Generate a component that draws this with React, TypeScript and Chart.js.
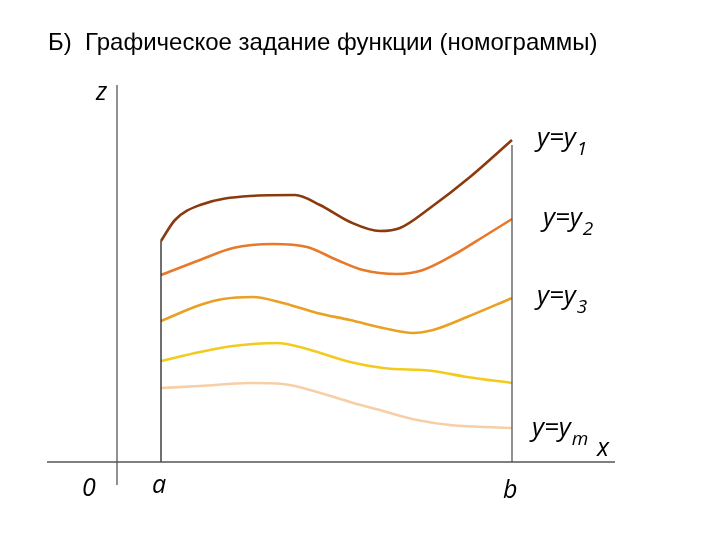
import React, { useEffect, useRef } from "react";
import { Chart, registerables } from "chart.js";

Chart.register(...registerables);

// Data (x along the axis, z upward), in arbitrary units
const xA = 44;
const xB = 395;
const curve1X = [44, 58, 83, 133, 178, 203, 233, 263, 283, 313, 353, 395];
const curve1Z = [221, 242, 257, 266, 267, 257, 240, 231, 234, 254, 285, 322];
const curve2X = [44, 83, 116, 156, 190, 220, 246, 280, 306, 340, 366, 395];
const curve2Z = [187, 202, 214, 218, 215, 202, 192, 188, 192, 209, 225, 243];
const curve3X = [44, 83, 106, 136, 166, 200, 233, 266, 296, 316, 350, 395];
const curve3Z = [141, 157, 163, 165, 159, 149, 142, 134, 129, 132, 145, 164];
const curve4X = [44, 83, 116, 160, 183, 233, 266, 316, 350, 395];
const curve4Z = [101, 110, 116, 119, 115, 100, 94, 91, 85, 79];
const curve5X = [44, 83, 133, 166, 200, 233, 266, 300, 333, 395];
const curve5Z = [74, 76, 79, 78, 70, 60, 51, 42, 37, 34];
const bTopZ = 317;
const xAxisRange = [-70, 498];
const zAxisRange = [-23, 377];

const curveColors = ["#8B3A0E", "#E8782A", "#EAA023", "#F2CB1E", "#F7CFA6"];
const curveLabels = ["1", "2", "3", "m"];
const title = "Б)  Графическое задание функции (номограммы)";

const toPts = (xs: number[], zs: number[]) => xs.map((x, i) => ({ x, y: zs[i] }));

export default function App() {
  const ref = useRef<HTMLCanvasElement | null>(null);
  useEffect(() => {
    if (!ref.current) return;
    const curves = [
      toPts(curve1X, curve1Z),
      toPts(curve2X, curve2Z),
      toPts(curve3X, curve3Z),
      toPts(curve4X, curve4Z),
      toPts(curve5X, curve5Z),
    ];
    const axisColor = "#555555";
    const lineDs = (data: any[], color: string, width: number) => ({
      data,
      borderColor: color,
      borderWidth: width,
      pointRadius: 0,
      tension: 0,
      fill: false,
    });
    const textPlugin = {
      id: "texts",
      afterDraw(chart: any) {
        const ctx = chart.ctx;
        const sx = chart.scales.x;
        const sy = chart.scales.y;
        ctx.save();
        ctx.fillStyle = "#000";
        ctx.textBaseline = "alphabetic";
        ctx.textAlign = "left";
        ctx.font = '24px "Liberation Sans", Arial, sans-serif';
        ctx.fillText(title, 48, 50);
        const it = (s: number) => `italic ${s}px "Open Sans", "Liberation Sans", sans-serif`;
        ctx.font = it(25);
        const px = (x: number) => sx.getPixelForValue(x);
        const py = (z: number) => sy.getPixelForValue(z);
        ctx.fillText("z", px(0) - 21, py(zAxisRange[1]) + 15);
        ctx.fillText("0", px(0) - 35, py(0) + 34);
        ctx.fillText("a", px(xA) - 9, py(0) + 31);
        ctx.fillText("b", px(xB) - 9, py(0) + 36);
        ctx.fillText("x", px(xAxisRange[1]) - 18, py(0) - 6);
        const labelPos = [
          [537, 146],
          [543, 226],
          [537, 304],
          [532, 436],
        ];
        labelPos.forEach(([lx, ly], i) => {
          ctx.font = it(26);
          ctx.fillText("y=y", lx, ly);
          const w = ctx.measureText("y=y").width;
          ctx.font = it(19);
          ctx.fillText(curveLabels[i], lx + w + 1, ly + 9);
        });
        ctx.restore();
      },
    };
    const chart = new Chart(ref.current, {
      type: "line",
      data: {
        datasets: [
          lineDs([{ x: xAxisRange[0], y: 0 }, { x: xAxisRange[1], y: 0 }], axisColor, 1.3),
          lineDs([{ x: 0, y: zAxisRange[0] }, { x: 0, y: zAxisRange[1] }], axisColor, 1.3),
          lineDs([{ x: xA, y: 0 }, { x: xA, y: curve1Z[0] }], "#222", 1.3),
          lineDs([{ x: xB, y: 0 }, { x: xB, y: bTopZ }], axisColor, 1.3),
          ...curves.map((c, i) => ({
            data: c,
            borderColor: curveColors[i],
            borderWidth: 2.6,
            pointRadius: 0,
            tension: 0.4,
            cubicInterpolationMode: "monotone" as const,
            fill: false,
          })),
        ] as any,
      },
      options: {
        animation: false,
        responsive: false,
        maintainAspectRatio: false,
        layout: { padding: 0 },
        plugins: { legend: { display: false }, tooltip: { enabled: false }, title: { display: false } },
        scales: {
          x: { type: "linear", min: -117, max: 603, display: false },
          y: { type: "linear", min: -78, max: 462, display: false },
        },
      },
      plugins: [textPlugin],
    });
    return () => chart.destroy();
  }, []);
  return (
    <div style={{ position: "fixed", left: 0, top: 0, width: 720, height: 540, background: "#fff" }}>
      <canvas ref={ref} width={720} height={540} style={{ width: 720, height: 540, display: "block" }} />
    </div>
  );
}
